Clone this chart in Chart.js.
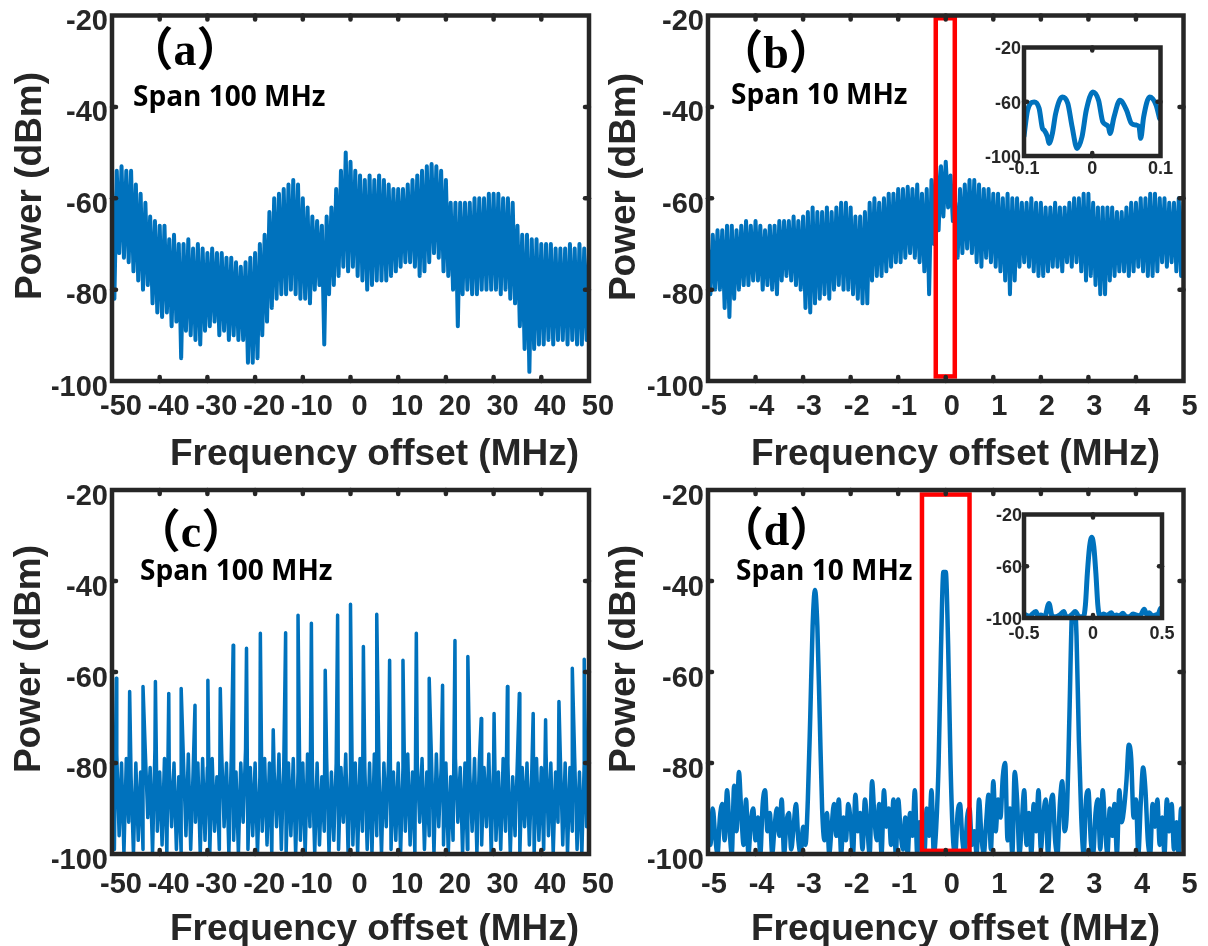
<!DOCTYPE html>
<html>
<head>
<meta charset="utf-8">
<script src="https://cdn.jsdelivr.net/npm/chart.js@4.4.1/dist/chart.umd.min.js"></script>
<style>
  html, body { margin: 0; padding: 0; background: #fff; }
  #fig { position: relative; width: 1208px; height: 946px; overflow: hidden; background: #fff; }
  #fig canvas { position: absolute; left: 0; top: 0; }
</style>
</head>
<body>
<div id="fig">
  <canvas id="panelA" width="1208" height="946"></canvas>
  <canvas id="panelB" width="1208" height="946"></canvas>
  <canvas id="panelC" width="1208" height="946"></canvas>
  <canvas id="panelD" width="1208" height="946"></canvas>
  <canvas id="insetB" width="1208" height="946"></canvas>
  <canvas id="insetD" width="1208" height="946"></canvas>
</div>
<script>
// ---- data (dBm) ----

// (a) span 100 MHz, one trace point every 0.5 MHz from -50 to 50
const powerA = [
  -58, -82, -54, -72, -53, -73, -54, -74, -54, -76,
  -57, -78, -59, -80, -61, -79, -64, -83, -65, -85,
  -66, -86, -66, -85, -69, -88, -68, -87, -70, -95,
  -70, -89, -69, -90, -71, -91, -70, -92, -71, -89,
  -72, -88, -71, -87, -72, -90, -72, -89, -73, -91,
  -73, -90, -74, -91, -75, -91, -74, -96, -73, -96,
  -72, -95, -70, -90, -68, -87, -63, -84, -60, -82,
  -59, -81, -58, -81, -57, -80, -56, -81, -57, -82,
  -60, -82, -62, -83, -64, -80, -65, -79, -66, -92,
  -64, -81, -62, -79, -58, -77, -54, -75, -50, -76,
  -52, -75, -54, -77, -55, -78, -56, -80, -55, -79,
  -56, -78, -55, -78, -56, -78, -57, -77, -58, -76,
  -58, -75, -58, -74, -57, -74, -56, -75, -55, -77,
  -54, -76, -53, -74, -52.5, -72, -53, -73, -54, -76,
  -56, -77, -61, -80, -61, -88, -61, -81, -61, -80,
  -61, -81, -60, -81, -60, -80, -60, -80, -59, -80,
  -59, -80, -59, -81, -60, -80, -60, -82, -61, -83,
  -66, -88, -68, -93, -68, -98, -69, -93, -69, -92,
  -70, -92, -70, -91, -70, -92, -71, -91, -71, -91,
  -71, -92, -70, -91, -71, -92, -70, -92, -71, -91,
  -72
];

// (b) span 10 MHz, one point every 0.05 MHz from -5 to 5
const powerB = [
  -71, -81, -68, -80, -67, -80, -67, -84, -66, -86, -66, -82, -67, -80, -66, -79, -65, -79, -66, -78,
  -65, -78, -66, -80, -67, -79, -66, -80, -66, -81, -65, -78, -65, -77, -65, -78, -64, -79, -65, -80,
  -64, -84, -63, -85, -62, -83, -63, -82, -63, -81, -62, -82, -63, -80, -62, -79, -61, -80, -61, -80,
  -62, -81, -64, -82, -64, -83, -63, -83, -61, -78, -60, -77, -61, -77, -60, -76, -59, -75, -59, -74,
  -58, -74, -58, -73, -57.5, -72, -58, -73, -57, -74, -59, -76, -58, -81, -56, -70, -53, -67, -53, -64,
  -52, -62, -55, -65, -61, -73, -58, -72, -57, -71, -56, -72, -56, -74, -57, -75, -58, -73, -58, -74,
  -59, -75, -59, -76, -60, -78, -59, -81, -60, -78, -60, -75, -61, -74, -61, -75, -60, -76, -61, -77,
  -61, -77, -62, -76, -62, -75, -61, -75, -62, -76, -62, -74, -61, -75, -60, -74, -60, -76, -59, -78,
  -59, -77, -61, -79, -62, -81, -62, -81, -62, -78, -62, -77, -63, -76, -63, -76, -62, -77, -61, -76,
  -61, -75, -60, -76, -60, -77, -59, -77, -59, -76, -60, -74, -60, -75, -61, -74, -61, -76, -60, -77,
  -61
];

// (c) noise floor every 0.5 MHz, plus the comb lines
const noiseC = [
  -84, -99, -78, -96, -80, -100, -79, -93, -83, -100,
  -80, -97, -82, -99, -78, -92, -81, -100, -77, -95,
  -82, -98, -79, -100, -81, -94, -80, -99, -83, -100,
  -80, -96, -78, -99, -82, -93, -80, -100, -79, -97,
  -81, -100, -79, -95, -83, -99, -78, -94, -80, -100,
  -79, -97, -82, -100, -80, -93, -77, -99, -81, -96,
  -80, -100, -83, -95, -79, -98, -80, -100, -82, -94,
  -78, -99, -81, -100, -80, -96, -79, -100, -82, -97,
  -80, -100, -78, -94, -81, -100, -80, -98, -83, -95,
  -79, -100, -82, -97, -80, -99, -81, -93, -78, -100,
  -82, -98, -80, -100, -79, -95, -81, -99, -80, -100,
  -78, -96, -83, -100, -80, -94, -79, -99, -82, -97,
  -80, -100, -81, -95, -78, -98, -82, -100, -80, -93,
  -79, -99, -82, -96, -80, -100, -78, -94, -81, -98,
  -80, -100, -83, -97, -79, -93, -81, -100, -80, -99,
  -82, -95, -79, -100, -80, -98, -81, -94, -78, -100,
  -80, -97, -82, -99, -79, -95, -80, -100, -83, -96,
  -79, -100, -81, -94, -80, -98, -82, -100, -79, -97,
  -81, -99, -78, -96, -80, -100, -82, -93, -79, -98,
  -80, -100, -81, -95, -79, -99, -82, -100, -80, -94,
  -88
];
const combFreqC = [-49.1, -46.3, -43.5, -40.9, -38.1, -35.5, -32.6, -29.9, -27.3, -24.6, -21.8, -18.9,
  -16.2, -13.6, -11.0, -8.2, -5.3, -2.7, 0.0, 2.7, 5.5, 8.2, 11.0, 13.8, 16.5, 19.3, 21.9, 24.6,
  27.4, 30.1, 32.9, 35.4, 38.3, 40.9, 43.7, 46.5, 49.0];
const combPowerC = [-61.4, -64.3, -63.2, -62.1, -64.7, -63.6, -67.3, -61.8, -63.6, -54.1, -54.8, -51.5,
  -72.7, -51.4, -47.5, -49.3, -59.6, -47.5, -45.1, -54.4, -47.3, -57.4, -57.4, -51.5, -61.4, -62.9, -53.1, -56.6,
  -70.2, -69.1, -63.2, -64.7, -69.1, -70.5, -66.5, -59.2, -57.2];

// (d) span 10 MHz, one point every 0.05 MHz from -5 to 5
const powerD = [
  -93, -98, -90, -96, -100, -92, -89, -97, -86, -94,
  -100, -85, -95, -82, -91, -98, -88, -100, -93, -90,
  -97, -92, -100, -89, -86, -95, -91, -100, -94, -90,
  -96, -88, -100, -93, -91, -99, -94, -89, -97, -100,
  -94, -98, -88, -70, -50, -42, -50, -70, -90, -97,
  -91, -100, -94, -89, -96, -88, -100, -92, -97, -89,
  -93, -100, -87, -95, -91, -99, -88, -94, -100, -84,
  -92, -97, -89, -100, -86, -94, -90, -98, -88, -100,
  -88, -95, -99, -92, -100, -91, -96, -86, -100, -93,
  -97, -100, -90, -96, -86, -100, -94, -80, -55, -38,
  -38, -54, -80, -96, -100, -91, -89, -97, -100, -92,
  -90, -98, -95, -100, -88, -96, -100, -93, -87, -99,
  -84, -95, -88, -92, -83, -80, -97, -90, -100, -82,
  -88, -100, -93, -86, -98, -91, -100, -89, -95, -86,
  -99, -92, -88, -100, -90, -87, -97, -100, -89, -84,
  -95, -90, -70, -48, -44, -52, -75, -92, -100, -88,
  -86, -97, -100, -91, -88, -99, -86, -94, -100, -90,
  -96, -89, -100, -86, -93, -90, -84, -76, -79, -92,
  -88, -100, -89, -81, -86, -97, -100, -89, -94, -88,
  -98, -92, -100, -88, -95, -89, -99, -93, -100, -90,
  -92
];

// insets: zoom on the red boxes
const insetFreqB = [-0.1, -0.0947, -0.085, -0.0778, -0.0729, -0.0705, -0.0657, -0.0633, -0.0584, -0.0536,
  -0.0439, -0.0358, -0.0295, -0.0222, -0.015, -0.0087, 0.001, 0.0092, 0.0155, 0.0237, 0.026, 0.0319,
  0.0406, 0.0502, 0.0575, 0.0647, 0.0686, 0.071, 0.0753, 0.0841, 0.0937, 0.0986];
const insetPowerB = [-85.3, -66.2, -60.1, -65, -79.7, -80.9, -85.8, -90.7, -83.4, -68.7,
  -56.5, -61.3, -78.5, -94.4, -85.8, -66.2, -52.8, -58.9, -74.8, -78.5, -83.4, -71.2,
  -58.9, -66.2, -76, -77.2, -78.5, -87, -71.2, -56.5, -62.6, -72.3];

const insetFreqD = [-0.5, -0.46, -0.414, -0.395, -0.379, -0.35, -0.319, -0.295, -0.271, -0.24, -0.212, -0.195,
  -0.176, -0.15, -0.129, -0.1, -0.069, -0.055, -0.041, -0.025, -0.009, 0.006, 0.021, 0.035, 0.045, 0.06,
  0.074, 0.1, 0.133, 0.15, 0.169, 0.19, 0.217, 0.24, 0.264, 0.29, 0.312, 0.34, 0.371, 0.39, 0.407, 0.43,
  0.455, 0.475, 0.491, 0.5];
const insetPowerD = [-97, -98.5, -95, -99, -97.7, -99, -88.7, -99, -99, -97.5, -95, -99,
  -99, -97, -95, -99, -99, -90, -65.6, -45, -37.5, -45, -65.6, -90, -97.5, -99,
  -96.9, -98, -95.9, -99, -97.7, -98.5, -96.4, -99, -99, -97, -97.7, -98.5, -93.3, -97.5, -95.9, -98.5,
  -97.7, -96.5, -92.5, -96];

const powerTicks = [-100, -80, -60, -40, -20];

// ---- helpers ----
const BLUE = '#0072BD';
const INK = '#262626';
const W = 1208, H = 946;

// analyser sweep: evenly spaced frequency bins
const sweep = (a, b, n) => Array.from({ length: n }, (_, i) => a + (b - a) * i / (n - 1));
const pairs = (xs, ys) => xs.map((x, i) => ({ x: x, y: ys[i] }));

const pointsA = pairs(sweep(-50, 50, powerA.length), powerA);
const pointsB = pairs(sweep(-5, 5, powerB.length), powerB);
const pointsC = pairs(sweep(-50, 50, noiseC.length), noiseC)
  .concat(pairs(combFreqC, combPowerC))
  .sort((p, q) => p.x - q.x);
const pointsD = pairs(sweep(-5, 5, powerD.length), powerD);

// frame, inward tick marks, red box and the panel texts
const deco = {
  id: 'deco',
  beforeDatasetsDraw(chart, args, o) {
    if (!o.blank) return;
    const a = chart.chartArea, ctx = chart.ctx;
    ctx.save();
    ctx.fillStyle = '#fff';
    ctx.fillRect(a.left, a.top, a.width, a.height);
    ctx.restore();
  },
  afterDatasetsDraw(chart, args, o) {
    const { ctx, chartArea: a } = chart;
    const x = chart.scales.x, y = chart.scales.y;
    ctx.save();
    if (o.box) {
      const x0 = x.getPixelForValue(o.box[0]), x1 = x.getPixelForValue(o.box[1]);
      const y0 = y.getPixelForValue(o.box[2]), y1 = y.getPixelForValue(o.box[3]);
      ctx.strokeStyle = '#ff0000';
      ctx.lineWidth = 4.5;
      ctx.strokeRect(x0, y0, x1 - x0, y1 - y0);
    }
    ctx.strokeStyle = INK;
    ctx.lineWidth = o.frame;
    ctx.lineJoin = 'miter';
    ctx.strokeRect(a.left, a.top, a.width, a.height);
    ctx.lineCap = 'round';
    const seg = (x0, y0, x1, y1) => { ctx.beginPath(); ctx.moveTo(x0, y0); ctx.lineTo(x1, y1); ctx.stroke(); };
    x.ticks.forEach(t => {
      const px = x.getPixelForValue(t.value);
      if (px < a.left + 3 || px > a.right - 3) return;
      seg(px, a.bottom, px, a.bottom - o.tick);
      seg(px, a.top, px, a.top + o.tick);
    });
    y.ticks.forEach(t => {
      const py = y.getPixelForValue(t.value);
      if (py < a.top + 3 || py > a.bottom - 3) return;
      seg(a.left, py, a.left + o.tick, py);
      seg(a.right, py, a.right - o.tick, py);
    });
    ctx.restore();
  },
  afterDraw(chart, args, o) {
    const ctx = chart.ctx;
    ctx.save();
    if (o.tag) {
      ctx.fillStyle = '#000';
      ctx.font = "bold 46px 'Liberation Serif', 'Noto Sans CJK SC'";
      ctx.textAlign = 'center';
      ctx.textBaseline = 'middle';
      ctx.fillText(o.tag, o.tagAt[0], o.tagAt[1]);
    }
    if (o.span) {
      ctx.fillStyle = '#000';
      ctx.font = "bold 28px 'Open Sans'";
      ctx.textAlign = 'left';
      ctx.textBaseline = 'alphabetic';
      ctx.fillText(o.span, o.spanAt[0], o.spanAt[1]);
    }
    if (o.xTitle) {
      ctx.fillStyle = INK;
      ctx.font = "bold 37px 'Liberation Sans', Arial";
      ctx.textAlign = 'center';
      ctx.textBaseline = 'alphabetic';
      ctx.fillText(o.xTitle, o.xTitleAt[0], o.xTitleAt[1]);
    }
    if (o.yTitle) {
      ctx.fillStyle = INK;
      ctx.font = "bold 37px 'Liberation Sans', Arial";
      ctx.textAlign = 'center';
      ctx.textBaseline = 'middle';
      ctx.translate(o.yTitleAt[0], o.yTitleAt[1]);
      ctx.rotate(-Math.PI / 2);
      ctx.fillText(o.yTitle, 0, 0);
    }
    ctx.restore();
  }
};

function spectrum(id, points, p) {
  const [L, T, R, B] = p.area;
  const yw = p.inset ? 40 : 60, xh = p.inset ? 30 : 60;
  const tickFont = { family: "'Liberation Sans', Arial", size: p.inset ? 18 : 29, weight: 'bold' };
  return new Chart(document.getElementById(id), {
    type: 'line',
    data: {
      datasets: [{
        data: points,
        borderColor: BLUE,
        borderWidth: p.lineWidth,
        pointRadius: 0,
        fill: false,
        tension: 0,
        cubicInterpolationMode: p.smooth ? 'monotone' : 'default',
        borderJoinStyle: 'round',
        borderCapStyle: 'round'
      }]
    },
    options: {
      responsive: false,
      animation: false,
      events: [],
      layout: { padding: { left: L - yw, top: T, right: W - R, bottom: H - B - xh } },
      plugins: {
        legend: { display: false },
        tooltip: { enabled: false },
        deco: p.deco
      },
      scales: {
        x: {
          type: 'linear',
          min: p.xRange[0],
          max: p.xRange[1],
          grid: { display: false, drawTicks: false },
          border: { display: false },
          ticks: { stepSize: p.xStep, autoSkip: false, maxRotation: 0, color: INK, font: tickFont,
                   padding: p.xPad, labelOffset: p.xShift },
          afterFit(s) { s.height = xh; s.paddingLeft = 0; s.paddingRight = 0; }
        },
        y: {
          min: powerTicks[0],
          max: powerTicks[powerTicks.length - 1],
          grid: { display: false, drawTicks: false },
          border: { display: false },
          ticks: { stepSize: p.yStep, autoSkip: false, color: INK, font: tickFont,
                   padding: p.yPad, labelOffset: p.yShift },
          afterFit(s) { s.width = yw; s.paddingTop = 0; s.paddingBottom = 0; }
        }
      }
    },
    plugins: [deco]
  });
}

const wideX = { xRange: [-50, 50], xStep: 10, xShift: 9 };
const narrowX = { xRange: [-5, 5], xStep: 1, xShift: 6 };
const mainY = { yStep: 20, yPad: 4, yShift: 6.5 };
const xTitle = 'Frequency offset (MHz)', yTitle = 'Power (dBm)';

spectrum('panelA', pointsA, Object.assign({}, wideX, mainY, {
  area: [112, 15.5, 589, 381], xPad: 9, lineWidth: 4,
  deco: { frame: 4.5, tick: 4, tag: '（a）', tagAt: [185, 53], span: 'Span 100 MHz', spanAt: [133, 106],
          xTitle: xTitle, xTitleAt: [374.5, 465], yTitle: yTitle, yTitleAt: [31, 186] }
}));

spectrum('panelB', pointsB, Object.assign({}, narrowX, mainY, {
  area: [708, 15.5, 1183.5, 381], xPad: 9, lineWidth: 4,
  deco: { frame: 4.5, tick: 4, box: [-0.21, 0.19, -20.6, -99], tag: '（b）', tagAt: [776, 56],
          span: 'Span 10 MHz', spanAt: [731, 104],
          xTitle: xTitle, xTitleAt: [955.5, 465], yTitle: yTitle, yTitleAt: [625, 187] }
}));

spectrum('panelC', pointsC, Object.assign({}, wideX, mainY, {
  area: [112, 490, 589, 854], xPad: 14, lineWidth: 3.5,
  deco: { frame: 4.5, tick: 4, tag: '（c）', tagAt: [191, 535], span: 'Span 100 MHz', spanAt: [140, 580],
          xTitle: xTitle, xTitleAt: [374.5, 940], yTitle: yTitle, yTitleAt: [30, 659] }
}));

spectrum('panelD', pointsD, Object.assign({}, narrowX, mainY, {
  area: [708, 490, 1183.5, 854], xPad: 14, lineWidth: 4.5, smooth: true,
  deco: { frame: 4.5, tick: 4, box: [-0.5, 0.5, -21, -99.3], tag: '（d）', tagAt: [776.5, 533.5],
          span: 'Span 10 MHz', spanAt: [736, 580],
          xTitle: xTitle, xTitleAt: [955.5, 940], yTitle: yTitle, yTitleAt: [625, 659] }
}));

spectrum('insetB', pairs(insetFreqB, insetPowerB), {
  inset: true, area: [1024, 47.5, 1160.5, 156], xRange: [-0.1, 0.1], xStep: 0.1, xShift: 0, xPad: 2,
  yStep: 40, yPad: 3, yShift: 2, lineWidth: 5, smooth: true,
  deco: { frame: 4.5, tick: 3, blank: true }
});

spectrum('insetD', pairs(insetFreqD, insetPowerD), {
  inset: true, area: [1024, 514.5, 1162, 618], xRange: [-0.5, 0.5], xStep: 0.5, xShift: 0, xPad: 5,
  yStep: 40, yPad: 2, yShift: 2, lineWidth: 5, smooth: true,
  deco: { frame: 4.5, tick: 3, blank: true }
});
</script>
</body>
</html>
